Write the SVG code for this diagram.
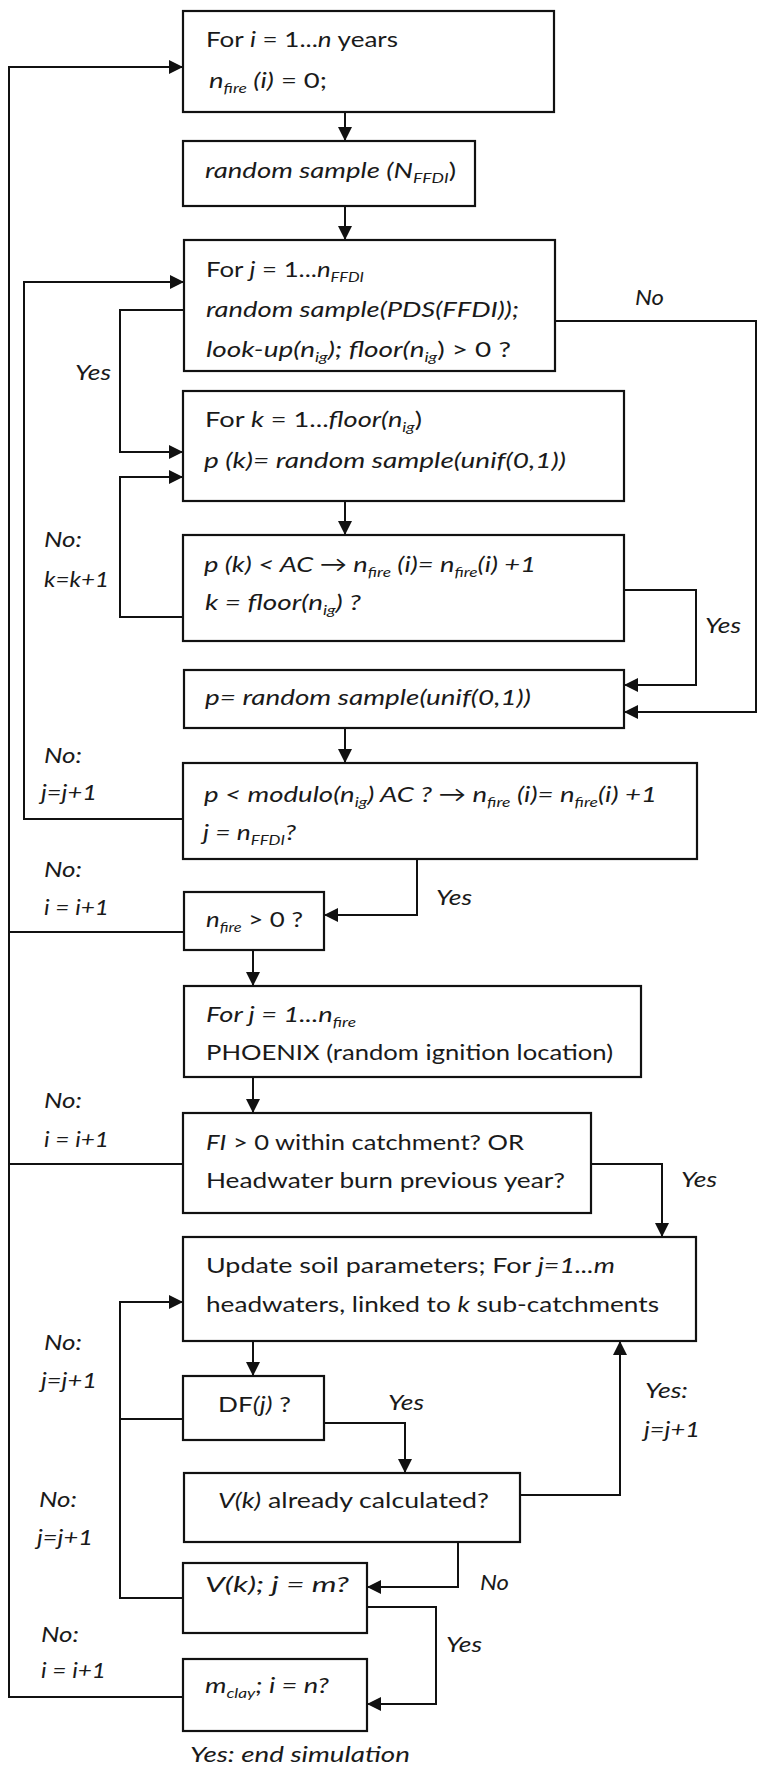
<svg xmlns="http://www.w3.org/2000/svg" width="758" height="1775" viewBox="0 0 758 1775">
<style>
text{font-family:Lato,"Open Sans","Liberation Sans",sans-serif;font-size:22px;fill:#1a1a1a}
.i{font-style:italic}
.s{font-size:14px;font-style:italic}
.box{fill:#fff;stroke:#111;stroke-width:2.2}
.c{fill:none;stroke:#111;stroke-width:2}
</style>
<defs>
<marker id="a" markerUnits="userSpaceOnUse" markerWidth="14" markerHeight="14" viewBox="0 0 14 14" refX="14" refY="7" orient="auto">
<path d="M0,0 L14,7 L0,14 z" fill="#111"/>
</marker>
</defs>
<rect width="758" height="1775" fill="#fff"/>
<g id="connectors">
<path class="c" d="M345,112 V141" marker-end="url(#a)"/>
<path class="c" d="M345,206 V240" marker-end="url(#a)"/>
<path class="c" d="M183,1697 H9 V67 H183" marker-end="url(#a)"/>
<path class="c" d="M183,819 H24 V282 H184" marker-end="url(#a)"/>
<path class="c" d="M184,310 H120 V452 H183" marker-end="url(#a)"/>
<path class="c" d="M183,617 H120 V477 H183" marker-end="url(#a)"/>
<path class="c" d="M555,321 H756 V712 H624" marker-end="url(#a)"/>
<path class="c" d="M345,501 V535" marker-end="url(#a)"/>
<path class="c" d="M624,590 H696 V685 H624" marker-end="url(#a)"/>
<path class="c" d="M345,728 V763" marker-end="url(#a)"/>
<path class="c" d="M417,859 V915 H324" marker-end="url(#a)"/>
<path class="c" d="M184,932 H9"/>
<path class="c" d="M253,950 V986" marker-end="url(#a)"/>
<path class="c" d="M253,1077 V1113" marker-end="url(#a)"/>
<path class="c" d="M183,1164 H9"/>
<path class="c" d="M591,1164 H662 V1237" marker-end="url(#a)"/>
<path class="c" d="M253,1341 V1376" marker-end="url(#a)"/>
<path class="c" d="M324,1423 H405 V1473" marker-end="url(#a)"/>
<path class="c" d="M520,1495 H620 V1341" marker-end="url(#a)"/>
<path class="c" d="M458,1542 V1587 H367" marker-end="url(#a)"/>
<path class="c" d="M183,1598 H120 V1302 H183" marker-end="url(#a)"/>
<path class="c" d="M183,1419 H120"/>
<path class="c" d="M367,1607 H436 V1704 H367" marker-end="url(#a)"/>
</g>
<g id="labels" lengthAdjust="spacingAndGlyphs">
<text class="i" x="635" y="305" textLength="29" lengthAdjust="spacingAndGlyphs">No</text>
<text class="i" x="75" y="380" textLength="36" lengthAdjust="spacingAndGlyphs">Yes</text>
<text class="i" x="44" y="547" textLength="38" lengthAdjust="spacingAndGlyphs">No:</text>
<text class="i" x="44" y="587" textLength="65" lengthAdjust="spacingAndGlyphs">k=k+1</text>
<text class="i" x="705" y="633" textLength="36" lengthAdjust="spacingAndGlyphs">Yes</text>
<text class="i" x="44" y="763" textLength="38" lengthAdjust="spacingAndGlyphs">No:</text>
<text class="i" x="41" y="800" textLength="56" lengthAdjust="spacingAndGlyphs">j=j+1</text>
<text class="i" x="436" y="905" textLength="36" lengthAdjust="spacingAndGlyphs">Yes</text>
<text class="i" x="44" y="877" textLength="38" lengthAdjust="spacingAndGlyphs">No:</text>
<text class="i" x="44" y="915" textLength="65" lengthAdjust="spacingAndGlyphs">i = i+1</text>
<text class="i" x="44" y="1108" textLength="38" lengthAdjust="spacingAndGlyphs">No:</text>
<text class="i" x="44" y="1147" textLength="65" lengthAdjust="spacingAndGlyphs">i = i+1</text>
<text class="i" x="681" y="1187" textLength="36" lengthAdjust="spacingAndGlyphs">Yes</text>
<text class="i" x="44" y="1350" textLength="38" lengthAdjust="spacingAndGlyphs">No:</text>
<text class="i" x="41" y="1388" textLength="56" lengthAdjust="spacingAndGlyphs">j=j+1</text>
<text class="i" x="388" y="1410" textLength="36" lengthAdjust="spacingAndGlyphs">Yes</text>
<text class="i" x="645" y="1398" textLength="43" lengthAdjust="spacingAndGlyphs">Yes:</text>
<text class="i" x="644" y="1437" textLength="56" lengthAdjust="spacingAndGlyphs">j=j+1</text>
<text class="i" x="39" y="1507" textLength="38" lengthAdjust="spacingAndGlyphs">No:</text>
<text class="i" x="37" y="1545" textLength="56" lengthAdjust="spacingAndGlyphs">j=j+1</text>
<text class="i" x="480" y="1590" textLength="29" lengthAdjust="spacingAndGlyphs">No</text>
<text class="i" x="446" y="1652" textLength="36" lengthAdjust="spacingAndGlyphs">Yes</text>
<text class="i" x="41" y="1642" textLength="38" lengthAdjust="spacingAndGlyphs">No:</text>
<text class="i" x="41" y="1678" textLength="65" lengthAdjust="spacingAndGlyphs">i = i+1</text>
<text class="i" x="190" y="1762" textLength="220" lengthAdjust="spacingAndGlyphs">Yes: end simulation</text>
</g>
<g id="n1">
<rect class="box" x="183" y="11" width="371" height="101"/>
<text x="206" y="47" textLength="192" lengthAdjust="spacingAndGlyphs">For <tspan class="i">i</tspan> = 1...<tspan class="i">n</tspan> years</text>
<text x="209" y="88" textLength="118" lengthAdjust="spacingAndGlyphs"><tspan class="i">n</tspan><tspan class="s" dy="5">fire</tspan><tspan class="i" dy="-5"> (i)</tspan> = 0;</text>
</g>
<g id="n2">
<rect class="box" x="183" y="141" width="292" height="65"/>
<text x="205" y="178" textLength="251" lengthAdjust="spacingAndGlyphs"><tspan class="i">random sample (N</tspan><tspan class="s" dy="5">FFDI</tspan><tspan dy="-5">)</tspan></text>
</g>
<g id="n3">
<rect class="box" x="184" y="240" width="371" height="131"/>
<text x="206" y="277" textLength="158" lengthAdjust="spacingAndGlyphs">For <tspan class="i">j</tspan> = 1...<tspan class="i">n</tspan><tspan class="s" dy="5">FFDI</tspan></text>
<text class="i" x="206" y="317" textLength="313" lengthAdjust="spacingAndGlyphs">random sample(PDS(FFDI));</text>
<text x="206" y="357" textLength="305" lengthAdjust="spacingAndGlyphs"><tspan class="i">look-up(n</tspan><tspan class="s" dy="5">ig</tspan><tspan class="i" dy="-5">);  floor(n</tspan><tspan class="s" dy="5">ig</tspan><tspan dy="-5">) &gt; 0 ?</tspan></text>
</g>
<g id="n4">
<rect class="box" x="183" y="391" width="441" height="110"/>
<text x="205" y="427" textLength="217" lengthAdjust="spacingAndGlyphs">For <tspan class="i">k</tspan> = 1...<tspan class="i">floor(n</tspan><tspan class="s" dy="5">ig</tspan><tspan dy="-5">)</tspan></text>
<text class="i" x="204" y="468" textLength="362" lengthAdjust="spacingAndGlyphs">p (k)= random sample(unif(0,1))</text>
</g>
<g id="n5">
<rect class="box" x="183" y="535" width="441" height="106"/>
<text class="i" x="204" y="572" textLength="332" lengthAdjust="spacingAndGlyphs">p (k) &lt; AC → n<tspan class="s" dy="5">fire</tspan><tspan dy="-5"> (i)= n</tspan><tspan class="s" dy="5">fire</tspan><tspan dy="-5">(i) +1</tspan></text>
<text class="i" x="205" y="610" textLength="156" lengthAdjust="spacingAndGlyphs">k = floor(n<tspan class="s" dy="5">ig</tspan><tspan dy="-5">) ?</tspan></text>
</g>
<g id="n6">
<rect class="box" x="184" y="670" width="440" height="58"/>
<text class="i" x="205" y="705" textLength="326" lengthAdjust="spacingAndGlyphs">p= random sample(unif(0,1))</text>
</g>
<g id="n7">
<rect class="box" x="183" y="763" width="514" height="96"/>
<text class="i" x="204" y="802" textLength="453" lengthAdjust="spacingAndGlyphs">p &lt; modulo(n<tspan class="s" dy="5">ig</tspan><tspan dy="-5">) AC ? → n</tspan><tspan class="s" dy="5">fire</tspan><tspan dy="-5"> (i)= n</tspan><tspan class="s" dy="5">fire</tspan><tspan dy="-5">(i) +1</tspan></text>
<text class="i" x="203" y="840" textLength="93" lengthAdjust="spacingAndGlyphs">j = n<tspan class="s" dy="5">FFDI</tspan><tspan dy="-5">?</tspan></text>
</g>
<g id="n8">
<rect class="box" x="184" y="892" width="140" height="58"/>
<text x="206" y="927" textLength="97" lengthAdjust="spacingAndGlyphs"><tspan class="i">n</tspan><tspan class="s" dy="5">fire</tspan><tspan dy="-5"> &gt; 0 ?</tspan></text>
</g>
<g id="n9">
<rect class="box" x="184" y="986" width="457" height="91"/>
<text class="i" x="206" y="1022" textLength="150" lengthAdjust="spacingAndGlyphs">For j = 1...n<tspan class="s" dy="5">fire</tspan></text>
<text x="206" y="1060" textLength="407" lengthAdjust="spacingAndGlyphs">PHOENIX (random ignition location)</text>
</g>
<g id="n10">
<rect class="box" x="183" y="1113" width="408" height="100"/>
<text x="206" y="1150" textLength="318" lengthAdjust="spacingAndGlyphs"><tspan class="i">FI</tspan> &gt; 0 within catchment? OR</text>
<text x="206" y="1188" textLength="359" lengthAdjust="spacingAndGlyphs">Headwater burn previous year?</text>
</g>
<g id="n11">
<rect class="box" x="183" y="1237" width="513" height="104"/>
<text x="206" y="1273" textLength="409" lengthAdjust="spacingAndGlyphs">Update soil parameters;  For <tspan class="i">j=1...m</tspan></text>
<text x="206" y="1312" textLength="453" lengthAdjust="spacingAndGlyphs">headwaters, linked to <tspan class="i">k</tspan> sub-catchments</text>
</g>
<g id="n12">
<rect class="box" x="183" y="1376" width="141" height="64"/>
<text x="218" y="1412" textLength="73" lengthAdjust="spacingAndGlyphs">DF<tspan class="i">(j)</tspan> ?</text>
</g>
<g id="n13">
<rect class="box" x="184" y="1473" width="336" height="69"/>
<text x="218" y="1508" textLength="271" lengthAdjust="spacingAndGlyphs"><tspan class="i">V(k)</tspan> already calculated?</text>
</g>
<g id="n14">
<rect class="box" x="183" y="1563" width="184" height="70"/>
<text class="i" x="205" y="1592" textLength="144" lengthAdjust="spacingAndGlyphs">V(k);  j = m?</text>
</g>
<g id="n15">
<rect class="box" x="183" y="1659" width="184" height="72"/>
<text class="i" x="205" y="1693" textLength="124" lengthAdjust="spacingAndGlyphs">m<tspan class="s" dy="5">clay</tspan><tspan dy="-5">; i = n?</tspan></text>
</g>
</svg>
